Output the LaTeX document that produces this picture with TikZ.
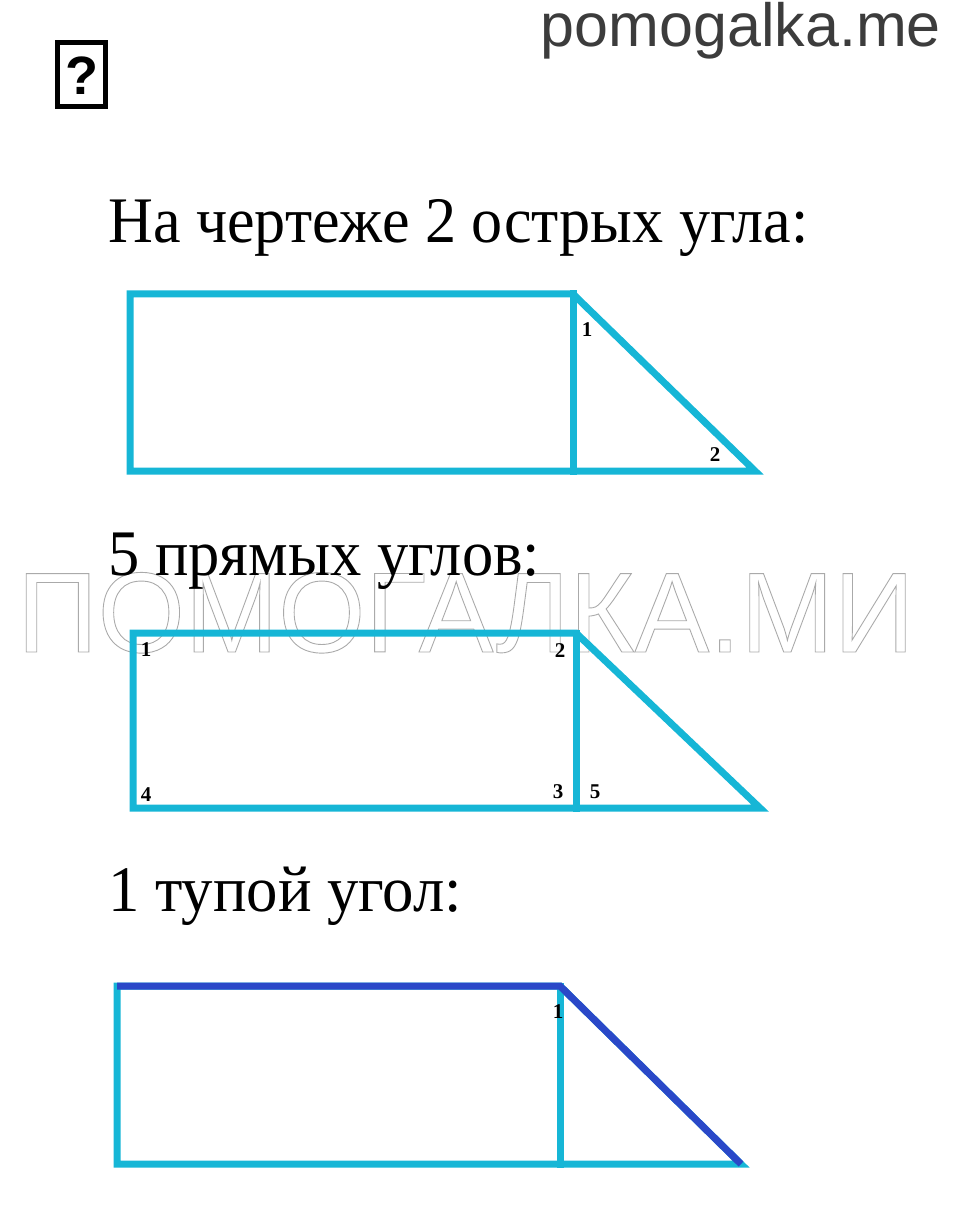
\documentclass[tikz,border=0pt]{standalone}
\usepackage{fontspec}
\usepackage{graphicx}
\setmainfont{Liberation Serif}
\newfontfamily\sitefont{Liberation Sans}
\newfontfamily\wmfont{Liberation Sans}
\definecolor{figcyan}{RGB}{22,182,214}
\definecolor{figblue}{RGB}{42,72,200}
\definecolor{sitegray}{RGB}{60,60,60}
\definecolor{wmgray}{RGB}{170,170,170}
\newcommand{\outlinetext}[1]{\special{pdf:literal direct 1 Tr 0.9 w}#1\special{pdf:literal direct 0 Tr}}
\tikzset{
  fig/.style={draw=figcyan, line width=7pt, line join=miter, line cap=rect},
  figb/.style={draw=figblue, line width=7pt, line join=miter, line cap=butt},
  lbl/.style={font=\fontsize{21}{21}\selectfont\bfseries, inner sep=0pt},
  ttl/.style={anchor=base west, inner sep=0pt, font=\fontsize{65}{65}\selectfont},
}
\begin{document}
\begin{tikzpicture}[x=1pt,y=-1pt]
\useasboundingbox (0,0) rectangle (960,1222);
% watermark
\node[inner sep=0pt, anchor=base west, text=wmgray] (wm) at (17,652)
  {\resizebox{897pt}{\height}{\wmfont\fontsize{114}{114}\selectfont\outlinetext{ПОМОГАЛКА.МИ}}};
% header
\node[draw=black, line width=4.5pt, minimum width=48pt, minimum height=64pt, inner sep=0pt] (q) at (81.5,74.5) {};
\node[inner sep=0pt, font=\sitefont\bfseries\fontsize{54}{54}\selectfont] (qm) at (81.5,76) {?};
\node[anchor=base east, inner sep=0pt, text=sitegray, font=\sitefont\fontsize{61}{61}\selectfont] (site) at (941,47) {pomogalka.me};
% titles
\node[ttl] (t1) at (108,243) {\resizebox{700pt}{\height}{На чертеже 2 острых угла:}};
\node[ttl] (t2) at (108,575) {\resizebox{432pt}{\height}{5 прямых углов:}};
\node[ttl] (t3) at (108,911) {\resizebox{354pt}{\height}{1 тупой угол:}};
% figure 1
\coordinate (a1) at (130,294);
\coordinate (b1) at (573,294);
\coordinate (c1) at (755,471);
\coordinate (d1) at (573,471);
\coordinate (e1) at (130,471);
\draw[fig] (a1) -- (b1) -- (c1) -- (e1) -- cycle;
\draw[fig] (b1) -- (d1);
\node[lbl] (n11) at (587,330) {1};
\node[lbl] (n12) at (715,455) {2};
% figure 2
\coordinate (a2) at (133,633);
\coordinate (b2) at (576,633);
\coordinate (c2) at (760,808);
\coordinate (d2) at (576,808);
\coordinate (e2) at (133,808);
\draw[fig] (a2) -- (b2) -- (c2) -- (e2) -- cycle;
\draw[fig] (b2) -- (d2);
\node[lbl] (n21) at (146,650) {1};
\node[lbl] (n22) at (560,651) {2};
\node[lbl] (n23) at (558,792) {3};
\node[lbl] (n24) at (146,795) {4};
\node[lbl] (n25) at (595,792) {5};
% figure 3
\coordinate (a3) at (117,986);
\coordinate (b3) at (560,986);
\coordinate (c3) at (741,1164);
\coordinate (d3) at (560,1164);
\coordinate (e3) at (117,1164);
\draw[fig] (a3) -- (b3) -- (c3) -- (e3) -- cycle;
\draw[fig] (b3) -- (d3);
\draw[figb] (a3) -- (b3) -- (c3);
\node[lbl] (n31) at (558,1012) {1};
\end{tikzpicture}
\end{document}
